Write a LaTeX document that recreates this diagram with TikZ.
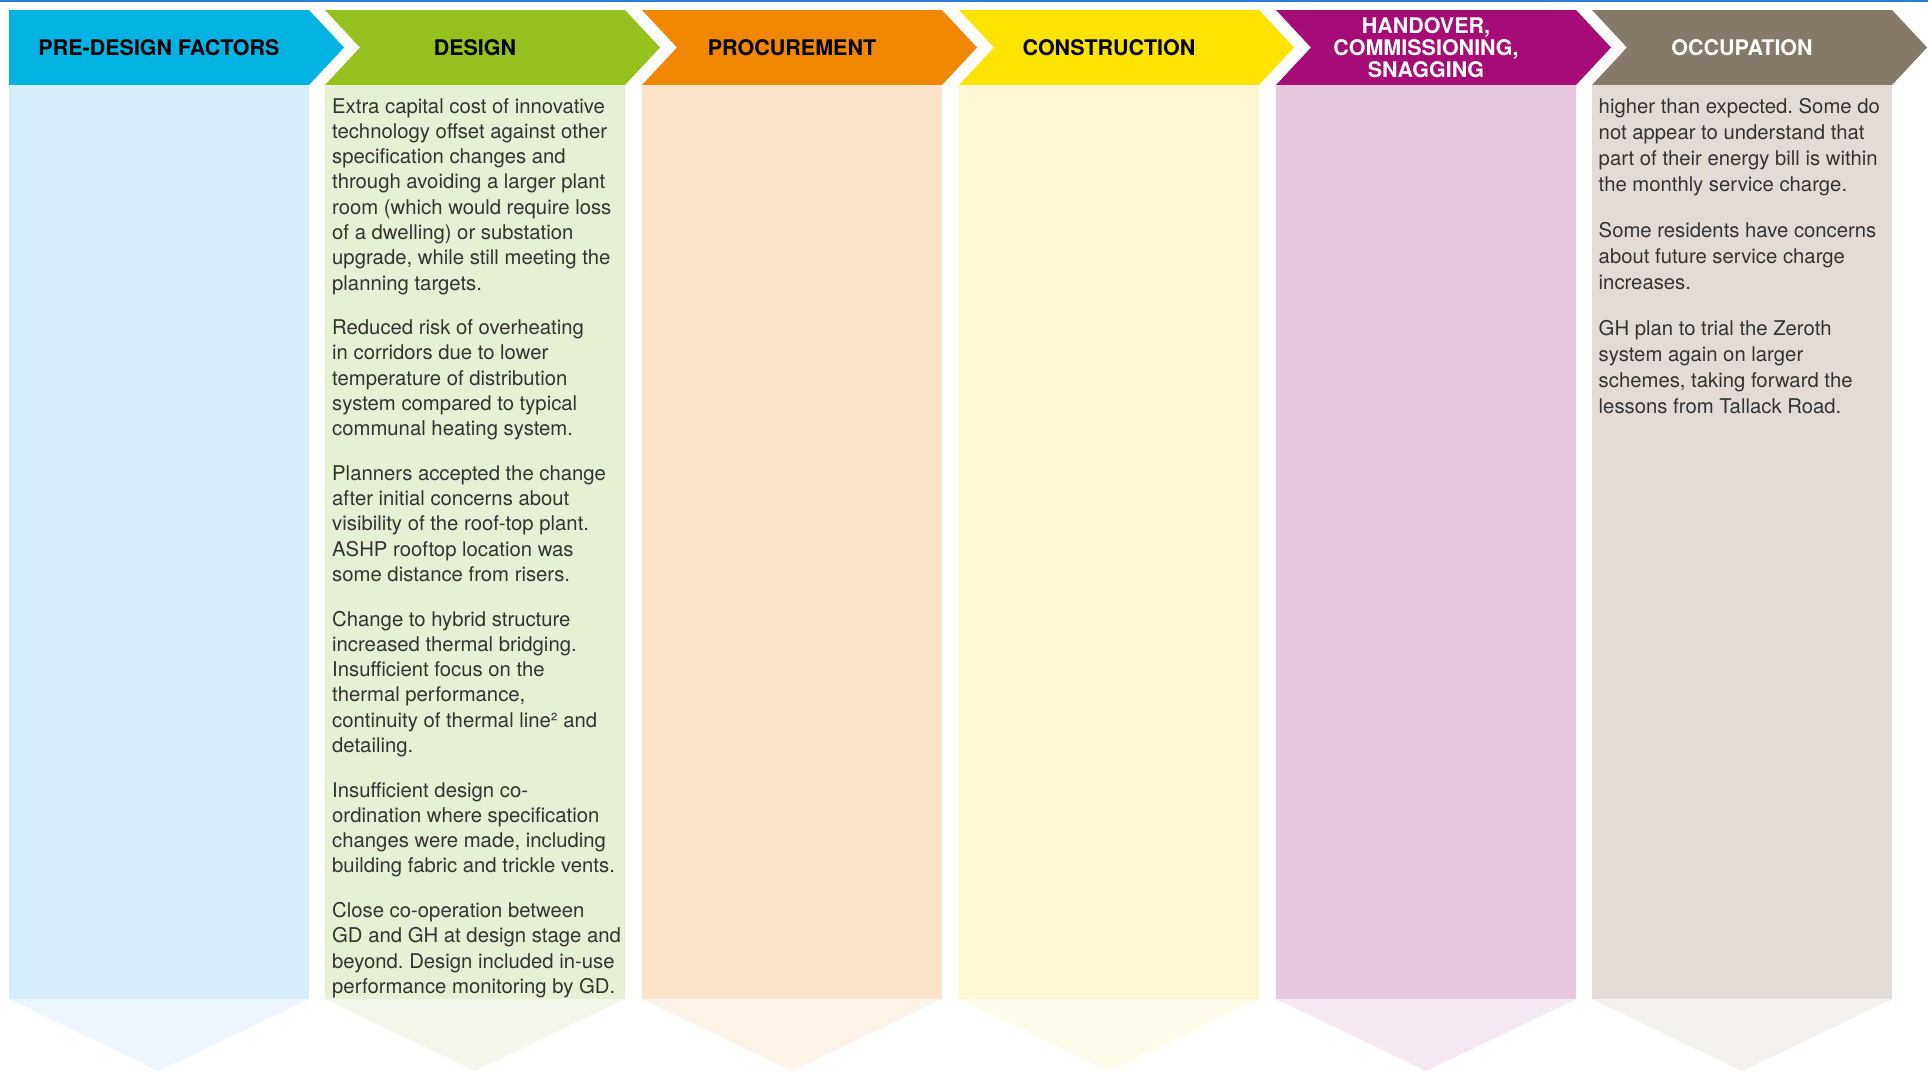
\documentclass[tikz,border=0pt]{standalone}
\usepackage{fontspec}
\setmainfont{TeX Gyre Heros}
\usetikzlibrary{positioning}
\frenchspacing

% stage colours: header, column, tail
\definecolor{preHead}{HTML}{00B3E3}
\definecolor{preBody}{HTML}{D6EEF9}
\definecolor{preTail}{HTML}{EEF6FD}
\definecolor{desHead}{HTML}{95C11F}
\definecolor{desBody}{HTML}{E6F0D3}
\definecolor{desTail}{HTML}{F3F7EB}
\definecolor{proHead}{HTML}{F08700}
\definecolor{proBody}{HTML}{FDE3C8}
\definecolor{proTail}{HTML}{FDF3E8}
\definecolor{conHead}{HTML}{FFE300}
\definecolor{conBody}{HTML}{FFF7D3}
\definecolor{conTail}{HTML}{FFFBEB}
\definecolor{hanHead}{HTML}{A60C75}
\definecolor{hanBody}{HTML}{E8C8E0}
\definecolor{hanTail}{HTML}{F4E8F2}
\definecolor{occHead}{HTML}{857A69}
\definecolor{occBody}{HTML}{E3DCD6}
\definecolor{occTail}{HTML}{F3F0ED}
\definecolor{topLine}{HTML}{2B7BD8}
\definecolor{bodyGrey}{HTML}{333333}

\tikzset{
    %Define style for the stage titles
    stagetitle/.style={
           font=\fontsize{21.5}{22}\selectfont\bfseries,
           align=center,
           inner sep=0pt},
    %Define style for the column texts
    stagetext/.style={
           anchor=base west,
           inner sep=0pt,
           text=bodyGrey,
           font=\fontsize{20.3}{25.3}\selectfont}
}

\begin{document}
\begin{tikzpicture}[x=1pt,y=-1pt]

\useasboundingbox (0,0) rectangle (1928,1071);
\fill[white] (0,0) rectangle (1928,1071);
\fill[topLine] (0,0) rectangle (1928,1.6);

%pre-design factors
\fill[preHead] (9,10) -- (309,10) -- (344,47.5) -- (309,85) -- (9,85) -- cycle;
\fill[preBody] (9,85) rectangle (309,999);
\fill[preTail] (9,999) -- (309,999) -- (159,1071) -- cycle;
\node[stagetitle] (predesign) at (159,47.5) {PRE-DESIGN FACTORS};

%design
\fill[desHead] (325,10) -- (625,10) -- (660,47.5) -- (625,85) -- (325,85) -- (360,47.5) -- cycle;
\fill[desBody] (325,85) rectangle (625,999);
\fill[desTail] (325,999) -- (625,999) -- (475,1071) -- cycle;
\node[stagetitle] (design) at (475,47.5) {DESIGN};

%procurement
\fill[proHead] (642,10) -- (942,10) -- (977,47.5) -- (942,85) -- (642,85) -- (677,47.5) -- cycle;
\fill[proBody] (642,85) rectangle (942,999);
\fill[proTail] (642,999) -- (942,999) -- (792,1071) -- cycle;
\node[stagetitle] (procurement) at (792,47.5) {PROCUREMENT};

%construction
\fill[conHead] (959,10) -- (1259,10) -- (1294,47.5) -- (1259,85) -- (959,85) -- (994,47.5) -- cycle;
\fill[conBody] (959,85) rectangle (1259,999);
\fill[conTail] (959,999) -- (1259,999) -- (1109,1071) -- cycle;
\node[stagetitle] (construction) at (1109,47.5) {CONSTRUCTION};

%handover
\fill[hanHead] (1276,10) -- (1576,10) -- (1611,47.5) -- (1576,85) -- (1276,85) -- (1311,47.5) -- cycle;
\fill[hanBody] (1276,85) rectangle (1576,999);
\fill[hanTail] (1276,999) -- (1576,999) -- (1426,1071) -- cycle;
\node[stagetitle, text=white] (handover) at (1426,47.5) {HANDOVER,\\COMMISSIONING,\\SNAGGING};

%occupation
\fill[occHead] (1592,10) -- (1892,10) -- (1927,47.5) -- (1892,85) -- (1592,85) -- (1627,47.5) -- cycle;
\fill[occBody] (1592,85) rectangle (1892,999);
\fill[occTail] (1592,999) -- (1892,999) -- (1742,1071) -- cycle;
\node[stagetitle, text=white] (occupation) at (1742,47.5) {OCCUPATION};

% text of the design column
\node[stagetext] (designtext) at (332,113) {\parbox[t]{290pt}{\raggedright
Extra capital cost of innovative\\
technology offset against other\\
specification changes and\\
through avoiding a larger plant\\
room (which would require loss\\
of a dwelling) or substation\\
upgrade, while still meeting the\\
planning targets.\\[19.2pt]
Reduced risk of overheating\\
in corridors due to lower\\
temperature of distribution\\
system compared to typical\\
communal heating system.\\[19.2pt]
Planners accepted the change\\
after initial concerns about\\
visibility of the roof-top plant.\\
ASHP rooftop location was\\
some distance from risers.\\[19.2pt]
Change to hybrid structure\\
increased thermal bridging.\\
Insufficient focus on the\\
thermal performance,\\
continuity of thermal line² and\\
detailing.\\[19.2pt]
Insufficient design co-\\
ordination where specification\\
changes were made, including\\
building fabric and trickle vents.\\[19.2pt]
Close co-operation between\\
GD and GH at design stage and\\
beyond. Design included in-use\\
performance monitoring by GD.}};

% text of the occupation column
\node[stagetext, font=\fontsize{20.3}{26.2}\selectfont] (occupationtext) at (1598.5,113) {\parbox[t]{290pt}{\raggedright
higher than expected. Some do\\
not appear to understand that\\
part of their energy bill is within\\
the monthly service charge.\\[19.3pt]
Some residents have concerns\\
about future service charge\\
increases.\\[19.3pt]
GH plan to trial the Zeroth\\
system again on larger\\
schemes, taking forward the\\
lessons from Tallack Road.}};

\end{tikzpicture}
\end{document}
